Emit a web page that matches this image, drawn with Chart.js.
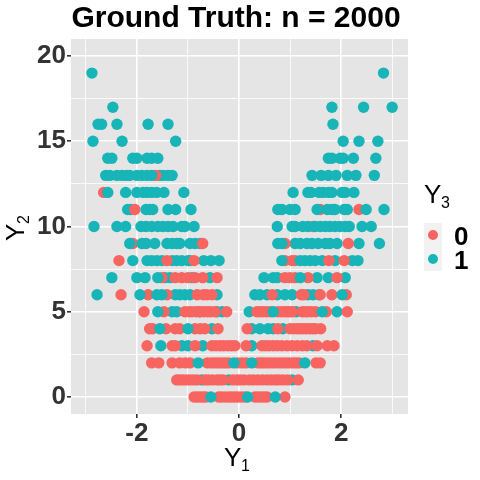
<!DOCTYPE html>
<html>
<head>
<meta charset="utf-8">
<style>body{margin:0;background:#fff}</style>
<script src="https://cdn.jsdelivr.net/npm/chart.js@4"></script>
</head>
<body>
<canvas id="chart" width="480" height="480"></canvas>
<script>
const titleText = 'Ground Truth: n = 2000';
const legendLabels = ['0', '1'];
const xTicks = [-3, -2, -1, 0, 1, 2, 3];
const yTicks = [0, 2.5, 5, 7.5, 10, 12.5, 15, 17.5, 20];
const xLabelled = [-2, 0, 2];
const yLabelled = [0, 5, 10, 15, 20];

// Y1 values, one list per Y2 level (index = Y2)
// teal that sits under the red points
const class1Back = [
  [-0.55, 0.17, 0.71],
  [],
  [-0.8, -0.1, 0.25, 1.29],
  [],
  [-1.55, -1.0],
  [-1.59, 0.67, 1.63],
  [-1.94, -1.61, -1.51, 2.02],
  [-1.59, 1.2],
  [0.84, 1.2],
  [-2.14, -1.9, -1.82, -1.65, 0.76, 0.84],
  [-2.84, -2.39, -2.22, -1.92, -1.82, -1.71, -1.59, -1.49, -1.39, -1.29, -1.12, -1.06, -0.88, 0.75, 1.04, 1.1, 1.25, 1.35, 1.49, 1.59, 1.69, 1.78, 1.88, 1.98, 2.08, 2.16, 2.41, 2.59],
  [-1.82, -1.75, -1.69, -1.39, -1.24, -0.94, 0.76, 0.84, 1.0, 1.1, 1.53, 1.73, 1.82, 1.88, 2.06, 2.12, 2.49, 2.84],
  [-2.57, -2.22, -2.0, -1.88, -1.8, -1.71, -1.61, -1.47, -1.08, 1.06, 1.35, 1.41, 1.57, 1.65, 1.75, 1.82, 2.02, 2.08, 2.25],
  [-2.61, -2.53, -2.39, -2.29, -2.2, -2.14, -2.0, -1.9, -1.8, -1.71, -1.39, -1.31, 1.43, 1.61, 1.75, 1.9, 2.12, 2.29, 2.65],
  [-2.57, -2.49, -2.08, -2.0, -1.8, -1.71, -1.59, 1.75, 1.82, 1.98, 2.04, 2.24, 2.68],
  [-2.86, -2.29, -1.24, 2.04, 2.35, 2.72],
  [-2.76, -2.69, -2.39, -1.78, -1.39, 1.84],
  [-2.47, 1.82, 2.44, 3.0],
  [],
  [-2.88, 2.83]
];

const class0 = [
  [-0.88, -0.82, -0.76, -0.7, -0.65, -0.4, -0.34, -0.27, -0.2, -0.14, -0.08, -0.02, 0.05, 0.12, 0.31, 0.37, 0.43, 0.49, 0.55, 0.9],
  [-1.22, -1.16, -1.1, -1.03, -0.96, -0.89, -0.82, -0.66, -0.6, -0.52, -0.43, -0.37, -0.31, -0.12, -0.04, 0.02, 0.1, 0.2, 0.28, 0.37, 0.46, 0.55, 0.63, 0.71, 0.78, 0.86, 0.95, 1.16],
  [-1.71, -1.57, -1.31, -1.16, -1.05, -0.96, -0.62, -0.54, -0.47, -0.4, -0.33, -0.27, -0.2, -0.02, 0.06, 0.14, 0.37, 0.43, 0.49, 0.56, 0.63, 0.7, 0.78, 0.85, 0.92, 0.99, 1.06, 1.12, 1.18, 1.51, 1.59],
  [-1.8, -1.31, -1.25, -0.86, -0.53, -0.45, -0.37, -0.3, -0.22, -0.15, -0.08, 0.14, 0.45, 0.52, 0.59, 0.67, 0.75, 0.84, 0.94, 1.04, 1.14, 1.24, 1.33, 1.53, 1.73, 1.86],
  [-1.75, -1.69, -1.43, -1.25, -1.16, -0.86, -0.76, -0.67, -0.41, 0.16, 0.76, 1.0, 1.07, 1.14, 1.2, 1.26, 1.32, 1.39, 1.45, 1.5, 1.6],
  [-1.86, -1.47, -1.06, -0.98, -0.92, -0.84, -0.75, -0.68, -0.61, -0.55, -0.47, -0.24, 0.35, 0.41, 0.47, 0.54, 0.61, 0.76, 0.83, 0.9, 0.95, 1.0, 1.05, 1.24, 1.3, 1.35, 1.42, 1.5, 1.71, 2.12],
  [-2.31, -1.78, -1.41, -0.82, -0.7, -0.63, -0.53, 0.65, 1.22, 1.27, 1.59, 1.82, 2.1],
  [-1.51, -1.25, -1.12, -1.0, -0.86, -0.71, -0.43, 0.9, 1.0, 1.1, 1.35, 1.92],
  [-2.35, -1.41, -0.88, 0.9, 1.04, 1.1, 1.76, 2.06],
  [-2.08, -0.71, 0.9, 2.14],
  [1.45],
  [-2.04, 1.59, 2.35],
  [-2.65],
  [-1.63],
  [], [], [], [], [], []
];

// teal drawn over the red points
const class1Front = [
  [],
  [-0.73, -0.2, 1.04],
  [],
  [-1.53, -1.12, -1.0, -0.71, 0.25, 1.45],
  [-0.53, 0.25, 0.41, 0.57, 0.67, 0.86],
  [-1.31, -1.22, -0.78, -0.43, -0.33, 0.2, 1.12, 1.92],
  [-2.78, -1.25, -1.16, -1.06, -0.96, -0.43, 0.31, 0.41, 0.55, 0.75, 0.9, 1.04, 1.35, 1.45, 1.57],
  [-2.49, -2.0, -1.84, -1.45, -1.35, -0.92, -0.57, 0.49, 0.67, 0.75, 1.53, 1.75, 2.08],
  [-2.08, -1.8, -1.71, -1.61, -1.51, -1.31, -1.22, -1.12, -1.0, -0.96, -0.69, -0.55, -0.39, 1.29, 1.39, 1.49, 1.63, 1.88, 2.22, 2.33],
  [-1.41, -1.31, -1.22, -1.16, -0.96, -0.86, -0.76, 1.1, 1.2, 1.33, 1.43, 1.55, 1.69, 1.78, 1.92, 2.35, 2.75],
  [],
  [-2.18, -2.12],
  [],
  [-1.55, -1.49],
  [], [], [], [], [], []
];

const RED = '#F8645F';
const TEAL = '#17B4B8';

function points(rows) {
  return rows.flatMap((row, level) => row.map(v => ({x: v, y: level})));
}

function layer(rows, color) {
  return {data: points(rows), backgroundColor: color, borderWidth: 0, pointRadius: 5.7, pointHoverRadius: 5.7};
}

function gridOpts(major) {
  return {
    color: '#fff',
    lineWidth: ctx => major.includes(ctx.tick && ctx.tick.value) ? 1.6 : 0.8,
    tickColor: ctx => major.includes(ctx.tick && ctx.tick.value) ? '#333' : 'rgba(0,0,0,0)',
    tickLength: 4,
    drawBorder: false
  };
}

// panel background, plus the text the scales cannot set (subscripts, legend)
const decor = {
  id: 'decor',
  beforeDraw(chart) {
    const a = chart.chartArea, c = chart.ctx;
    c.save();
    c.fillStyle = '#E5E5E5';
    c.fillRect(a.left, a.top, a.right - a.left, a.bottom - a.top);
    c.restore();
  },
  afterDraw(chart) {
    const c = chart.ctx;
    c.save();
    c.fillStyle = '#000';
    c.textBaseline = 'alphabetic';
    c.textAlign = 'center';
    c.font = 'bold 30px "Liberation Sans"';
    c.fillText(titleText, 236, 27);

    c.textAlign = 'left';
    c.font = '26px "Liberation Sans"';
    c.fillText('Y', 224, 466);
    c.font = '16px "Liberation Sans"';
    c.fillText('1', 241, 471);

    c.save();
    c.translate(24, 241);
    c.rotate(-Math.PI / 2);
    c.font = '26px "Liberation Sans"';
    c.fillText('Y', 0, 0);
    c.font = '16px "Liberation Sans"';
    c.fillText('2', 17, 5);
    c.restore();

    c.font = '26px "Liberation Sans"';
    c.fillText('Y', 424, 203);
    c.font = '16px "Liberation Sans"';
    c.fillText('3', 441, 208);

    c.fillStyle = '#F2F2F2';
    c.fillRect(424, 223, 18, 48);
    [RED, TEAL].forEach((col, i) => {
      c.fillStyle = col;
      c.beginPath();
      c.arc(433, 235 + i * 24, 5, 0, Math.PI * 2);
      c.fill();
    });
    c.fillStyle = '#000';
    c.font = 'bold 26px "Liberation Sans"';
    legendLabels.forEach((t, i) => c.fillText(t, 454, 245 + i * 24));
    c.restore();
  }
};

new Chart(document.getElementById('chart'), {
  type: 'scatter',
  data: {
    datasets: [layer(class1Back, TEAL), layer(class0, RED), layer(class1Front, TEAL)]
  },
  plugins: [decor],
  options: {
    responsive: false,
    animation: false,
    layout: {padding: {top: 39, right: 72, left: 0, bottom: 0}},
    plugins: {legend: {display: false}, tooltip: {enabled: false}},
    scales: {
      x: {
        type: 'linear', min: -3.29, max: 3.31,
        afterBuildTicks: s => { s.ticks = xTicks.map(v => ({value: v})); },
        afterFit: s => { s.height = 66; },
        border: {display: false},
        grid: gridOpts(xLabelled),
        ticks: {
          autoSkip: false, maxRotation: 0, padding: 0,
          color: '#333', font: {family: 'Liberation Sans', size: 26, weight: 'bold'},
          callback: v => xLabelled.includes(v) ? String(v) : ''
        }
      },
      y: {
        type: 'linear', min: -1, max: 21,
        afterBuildTicks: s => { s.ticks = yTicks.map(v => ({value: v})); },
        afterFit: s => { s.width = 71; },
        border: {display: false},
        grid: gridOpts(yLabelled),
        ticks: {
          autoSkip: false, padding: 1,
          color: '#333', font: {family: 'Liberation Sans', size: 26, weight: 'bold'},
          callback: v => yLabelled.includes(v) ? String(v) : ''
        }
      }
    }
  }
});
</script>
</body>
</html>
